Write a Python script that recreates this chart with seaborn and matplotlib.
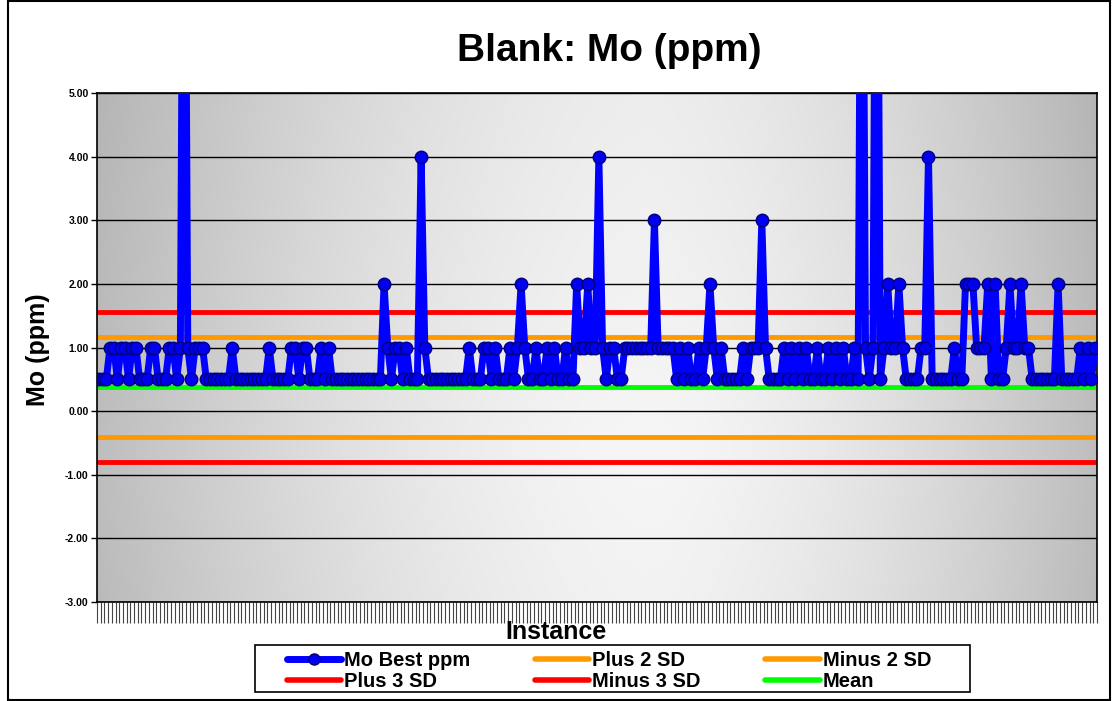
import numpy as np
import pandas as pd
import matplotlib
matplotlib.use("Agg")
import matplotlib.pyplot as plt
import seaborn as sns
from matplotlib.patches import Rectangle
from matplotlib.lines import Line2D

sns.set_theme(style="white")
plt.rcParams['font.family'] = ['Liberation Sans', 'DejaVu Sans']
plt.rcParams['text.color'] = 'black'
plt.rcParams['axes.labelcolor'] = 'black'
plt.rcParams['xtick.color'] = 'black'
plt.rcParams['ytick.color'] = 'black'

# Molybdenum best value per blank instance (ppm); off-scale results kept as 12
mo_best_ppm = [
    0.5, 0.5, 0.5, 1, 1, 0.5, 1, 1, 0.5, 1, 1, 0.5, 0.5, 0.5, 1, 1, 0.5, 0.5, 0.5, 1,
    1, 0.5, 1, 12, 1, 0.5, 1, 1, 1, 0.5, 0.5, 0.5, 0.5, 0.5, 0.5, 0.5, 1, 0.5, 0.5, 0.5,
    0.5, 0.5, 0.5, 0.5, 0.5, 0.5, 1, 0.5, 0.5, 0.5, 0.5, 0.5, 1, 1, 0.5, 1, 1, 0.5, 0.5, 0.5,
    1, 0.5, 1, 0.5, 0.5, 0.5, 0.5, 0.5, 0.5, 0.5, 0.5, 0.5, 0.5, 0.5, 0.5, 0.5, 0.5, 2, 1, 0.5,
    1, 1, 0.5, 1, 0.5, 0.5, 0.5, 4, 1, 0.5, 0.5, 0.5, 0.5, 0.5, 0.5, 0.5, 0.5, 0.5, 0.5, 0.5,
    1, 0.5, 0.5, 0.5, 1, 1, 0.5, 1, 0.5, 0.5, 0.5, 1, 0.5, 1, 2, 1, 0.5, 0.5, 1, 0.5,
    0.5, 1, 0.5, 1, 0.5, 0.5, 1, 0.5, 0.5, 2, 1, 1, 2, 1, 1, 4, 1, 0.5, 1, 1,
    0.5, 0.5, 1, 1, 1, 1, 1, 1, 1, 1, 3, 1, 1, 1, 1, 1, 0.5, 1, 0.5, 1,
    0.5, 0.5, 1, 0.5, 1, 2, 1, 0.5, 1, 0.5, 0.5, 0.5, 0.5, 0.5, 1, 0.5, 1, 1, 1, 3,
    1, 0.5, 0.5, 0.5, 0.5, 1, 0.5, 1, 0.5, 1, 0.5, 1, 0.5, 0.5, 1, 0.5, 0.5, 1, 0.5, 1,
    0.5, 1, 0.5, 0.5, 1, 0.5, 12, 1, 0.5, 1, 12, 0.5, 1, 2, 1, 1, 2, 1, 0.5, 0.5,
    0.5, 0.5, 1, 1, 4, 0.5, 0.5, 0.5, 0.5, 0.5, 0.5, 1, 0.5, 0.5, 2, 2, 2, 1, 1, 1,
    2, 0.5, 2, 0.5, 0.5, 1, 2, 1, 1, 2, 1, 1, 0.5, 0.5, 0.5, 0.5, 0.5, 0.5, 0.5, 2,
    0.5, 0.5, 0.5, 0.5, 0.5, 1, 0.5, 1, 0.5, 1,
]

# Control limits for the blank (ppm)
mean_value = 0.38
plus_2sd = 1.17
minus_2sd = -0.41
plus_3sd = 1.565
minus_3sd = -0.805

y_ticks = [-3, -2, -1, 0, 1, 2, 3, 4, 5]

df = pd.DataFrame({"Instance": np.arange(len(mo_best_ppm)), "Mo": mo_best_ppm})
n = len(df)

fig = plt.figure(figsize=(11.18, 7.01), dpi=100)
fig.patch.set_facecolor("white")
ax = fig.add_axes([0.0868, 0.1412, 0.8944, 0.7261])

# shaded plot-area background: light in the middle, grey towards the sides
gx = np.linspace(0, 1, 500)
gy = np.linspace(0, 1, 250)
GX, GY = np.meshgrid(gx, gy)
dist = np.where(GX < 0.55, (0.55 - GX) / 0.55, (GX - 0.55) / 0.45)
shade = 0.965 - 0.22 * dist ** 1.6 - 0.05 * np.abs(GY - 0.3)
shade = np.clip(shade, 0, 1)
ax.imshow(np.dstack([shade, shade, shade]), extent=[0, 1, 0, 1], transform=ax.transAxes,
          aspect="auto", origin="lower", zorder=0)

for t in y_ticks:
    ax.axhline(t, color="black", linewidth=1.0, zorder=1)

ax.axhline(plus_2sd, color="#FF9900", linewidth=3.5, zorder=2)
ax.axhline(minus_2sd, color="#FF9900", linewidth=3.5, zorder=2)
ax.axhline(plus_3sd, color="#FF0000", linewidth=3.5, zorder=2)
ax.axhline(minus_3sd, color="#FF0000", linewidth=3.5, zorder=2)
ax.axhline(mean_value, color="#00FF00", linewidth=3.5, zorder=2)

sns.lineplot(data=df, x="Instance", y="Mo", ax=ax, color="#0000FF", linewidth=5,
             marker="o", markersize=9, markerfacecolor="#0000EE",
             markeredgecolor="#000080", markeredgewidth=1, zorder=3, legend=False)

ax.set_xlim(-0.5, n - 0.5)
ax.set_ylim(-3, 5)
ax.set_yticks(y_ticks)
ax.set_yticklabels([f"{v:.2f}" for v in y_ticks], fontsize=7.5, fontweight="bold")
ax.set_xticks(np.arange(-0.5, n, 1.0))
ax.set_xticklabels([])
ax.tick_params(axis="x", direction="out", length=15, width=0.8, color="#444444", bottom=True)
ax.tick_params(axis="y", direction="out", length=4, width=1, color="black", left=True, pad=2)
for s in ax.spines.values():
    s.set_color("black")
    s.set_linewidth(1.2)

ax.set_xlabel("Instance", fontsize=18, fontweight="bold")
ax.xaxis.set_label_coords(0.459, -0.036)
ax.set_ylabel("Mo (ppm)", fontsize=18, fontweight="bold")
ax.yaxis.set_label_coords(-0.047, 0.495)
fig.text(0.545, 0.927, "Blank: Mo (ppm)", fontsize=28, fontweight="bold",
         ha="center", va="center")

handles = [
    Line2D([], [], color="#0000FF", linewidth=5, marker="o", markersize=8,
           markerfacecolor="#0000EE", markeredgecolor="#000080"),
    Line2D([], [], color="#FF0000", linewidth=4),
    Line2D([], [], color="#FF9900", linewidth=4),
    Line2D([], [], color="#FF0000", linewidth=4),
    Line2D([], [], color="#FF9900", linewidth=4),
    Line2D([], [], color="#00FF00", linewidth=4),
]
labels = ["Mo Best ppm", "Plus 3 SD", "Plus 2 SD", "Minus 3 SD", "Minus 2 SD", "Mean"]
fig.legend(handles, labels, loc="center left", bbox_to_anchor=(0.253, 0.043), ncol=3,
           frameon=False, prop={"size": 14.5, "weight": "bold"}, handlelength=2.7,
           handletextpad=0.15, columnspacing=3.2, labelspacing=0.1,
           borderpad=0.2, borderaxespad=0)

# legend box
fig.add_artist(Rectangle((0.2281, 0.0128), 0.6395, 0.067, transform=fig.transFigure,
                         fill=False, edgecolor="black", linewidth=1.2))

# chart border
fig.add_artist(Rectangle((0.007, 0.002), 0.986, 0.996, transform=fig.transFigure,
                         fill=False, edgecolor="black", linewidth=1.5))

fig.savefig("out.png", dpi=100)
